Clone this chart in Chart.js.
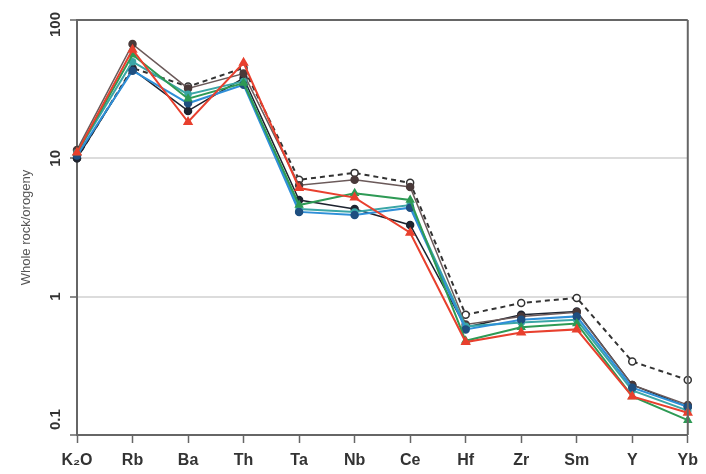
<!DOCTYPE html>
<html>
<head>
<meta charset="utf-8">
<script src="https://cdn.jsdelivr.net/npm/chart.js@4.4.0/dist/chart.umd.min.js"></script>
<style>
html,body{margin:0;padding:0;background:#fff;}
#wrap{width:706px;height:474px;position:relative;}
</style>
</head>
<body>
<div id="wrap"><canvas id="c" width="706" height="474"></canvas></div>
<script>
const categories = ["K\u2082O","Rb","Ba","Th","Ta","Nb","Ce","Hf","Zr","Sm","Y","Yb"];
const yTickValues = [0.1, 1, 10, 100];
const yTickLabels = ["0.1", "1", "10", "100"];
const yTitle = "Whole rock/orogeny";

const redSeries    = [11, 61, 18.3, 49, 6.1, 5.2, 2.9, 0.47, 0.55, 0.58, 0.19, 0.145];
const greenSeries  = [11, 56, 27, 35, 4.6, 5.6, 5.0, 0.48, 0.60, 0.64, 0.19, 0.128];
const blueSeries   = [10.5, 43, 25, 34, 4.1, 3.9, 4.4, 0.58, 0.68, 0.72, 0.22, 0.16];
const tealSeries   = [11, 50, 29, 36, 4.3, 4.1, 4.6, 0.61, 0.65, 0.68, 0.21, 0.15];
const graySeries   = [11.5, 67, 32, 41, 6.4, 7.0, 6.2, 0.63, 0.72, 0.77, 0.23, 0.165];
const blackSeries  = [10, 44, 22, 38, 5.0, 4.3, 3.3, 0.60, 0.74, 0.78, 0.23, 0.16];
const dashedSeries = [10, 45, 33, 45, 7.0, 7.85, 6.65, 0.74, 0.90, 0.98, 0.34, 0.25];

function ds(label, data, color, opts) {
  return Object.assign({
    label: label, data: data, borderColor: color, backgroundColor: color,
    borderWidth: 2, pointRadius: 3.5, pointBorderWidth: 1.5,
    pointBackgroundColor: color, pointBorderColor: color, tension: 0
  }, opts || {});
}

const frame = {
  id: 'frame',
  afterDraw(chart) {
    const {ctx, chartArea: a} = chart;
    ctx.save();
    ctx.strokeStyle = '#666';
    ctx.lineWidth = 2;
    ctx.beginPath();
    ctx.moveTo(a.right, a.top);
    ctx.lineTo(a.right, a.bottom);
    ctx.stroke();
    // rotated y tick labels
    const ys = chart.scales.y;
    ctx.fillStyle = '#333';
    ctx.font = 'bold 15px "Liberation Sans", Arial, sans-serif';
    ctx.textAlign = 'center';
    ctx.textBaseline = 'middle';
    yTickValues.forEach((v, i) => {
      let py = ys.getPixelForValue(v);
      const w = ctx.measureText(yTickLabels[i]).width;
      if (py - w / 2 < a.top - 8) py = a.top - 8 + w / 2;
      if (py + w / 2 > a.bottom - 5) py = a.bottom - 5 - w / 2;
      ctx.save();
      ctx.translate(56, py);
      ctx.rotate(-Math.PI / 2);
      ctx.fillText(yTickLabels[i], 0, 0);
      ctx.restore();
    });
    // y title
    ctx.fillStyle = '#555';
    ctx.font = '13px "Liberation Sans", Arial, sans-serif';
    ctx.save();
    ctx.translate(26, (a.top + a.bottom) / 2);
    ctx.rotate(-Math.PI / 2);
    ctx.fillText(yTitle, 0, 0);
    ctx.restore();
    ctx.restore();
  }
};

new Chart(document.getElementById('c'), {
  type: 'line',
  data: {
    labels: categories,
    datasets: [
      ds('red', redSeries, '#e8402e', {pointStyle: 'triangle', pointRadius: 4.5}),
      ds('green', greenSeries, '#2e9a55', {pointStyle: 'triangle', pointRadius: 4}),
      ds('blue', blueSeries, '#2f8fd8', {pointBackgroundColor: '#1f4f80', pointBorderColor: '#1f4f80'}),
      ds('teal', tealSeries, '#3aa6a6', {pointRadius: 3}),
      ds('gray', graySeries, '#6b5a5a', {borderWidth: 1.5, pointBackgroundColor: '#4a3a3a', pointBorderColor: '#4a3a3a'}),
      ds('black', blackSeries, '#1e2430', {borderWidth: 1.5}),
      ds('dashed', dashedSeries, '#333', {borderDash: [5, 4], pointBackgroundColor: '#fff', pointBorderColor: '#333', pointRadius: 3.5})
    ]
  },
  options: {
    responsive: false,
    animation: false,
    devicePixelRatio: 1,
    layout: {padding: {left: 0, right: 12, top: 20, bottom: 0}},
    plugins: {legend: {display: false}, tooltip: {enabled: false}},
    scales: {
      x: {
        type: 'category',
        offset: false,
        border: {color: '#666', width: 2},
        grid: {drawOnChartArea: false, drawTicks: true, tickLength: 8, tickColor: '#666', tickWidth: 1.5},
        ticks: {color: '#333', padding: 8, maxRotation: 0, minRotation: 0, autoSkip: false,
                font: {family: '"Liberation Sans", Arial, sans-serif', size: 16, weight: 'bold'}},
        afterFit(scale) { scale.height = 39; }
      },
      y: {
        type: 'logarithmic',
        min: 0.1, max: 100,
        border: {color: '#666', width: 2},
        afterBuildTicks(scale) { scale.ticks = yTickValues.map(v => ({value: v})); },
        grid: {
          color: ctx => (ctx.tick && (ctx.tick.value === 10 || ctx.tick.value === 1)) ? '#dcdcdc' : (ctx.tick && ctx.tick.value === 100 ? '#666' : 'rgba(0,0,0,0)'),
          lineWidth: ctx => (ctx.tick && ctx.tick.value === 100) ? 2 : 2,
          drawTicks: true, tickLength: 7, tickColor: '#666', tickWidth: 1.5
        },
        ticks: {display: false},
        afterFit(scale) { scale.width = 77; }
      }
    }
  },
  plugins: [frame]
});
</script>
</body>
</html>
